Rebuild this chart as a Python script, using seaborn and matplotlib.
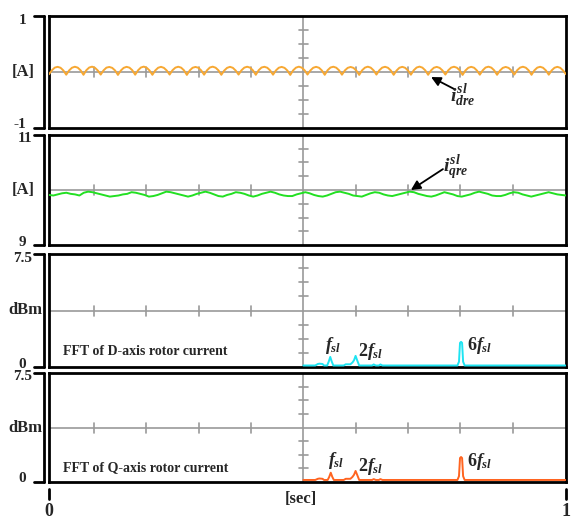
import numpy as np
import pandas as pd
import matplotlib
matplotlib.use("Agg")
import matplotlib.pyplot as plt
import seaborn as sns

# ---------------------------------------------------------------- data
# D-axis rotor current ripple [A], one row per ripple cycle
idre_cycles = [
    [-0.040, 0.030, 0.078, 0.092, 0.076, 0.028],
    [-0.048, 0.028, 0.076, 0.094, 0.078, 0.030],
    [-0.050, 0.032, 0.080, 0.095, 0.075, 0.026],
    [-0.046, 0.030, 0.078, 0.090, 0.074, 0.028],
    [-0.052, 0.026, 0.074, 0.092, 0.078, 0.032],
    [-0.048, 0.030, 0.080, 0.096, 0.076, 0.028],
    [-0.050, 0.028, 0.076, 0.092, 0.074, 0.026],
    [-0.046, 0.032, 0.078, 0.094, 0.078, 0.030],
    [-0.052, 0.028, 0.076, 0.090, 0.076, 0.028],
    [-0.048, 0.030, 0.080, 0.095, 0.077, 0.030],
    [-0.050, 0.026, 0.074, 0.092, 0.075, 0.026],
    [-0.046, 0.030, 0.078, 0.094, 0.078, 0.030],
    [-0.050, 0.032, 0.080, 0.093, 0.076, 0.028],
    [-0.048, 0.028, 0.076, 0.091, 0.074, 0.026],
    [-0.052, 0.030, 0.078, 0.095, 0.078, 0.030],
    [-0.046, 0.028, 0.076, 0.092, 0.076, 0.028],
    [-0.050, 0.032, 0.080, 0.094, 0.077, 0.030],
    [-0.048, 0.028, 0.074, 0.090, 0.074, 0.026],
    [-0.052, 0.030, 0.078, 0.095, 0.078, 0.030],
    [-0.046, 0.030, 0.078, 0.093, 0.076, 0.028],
    [-0.050, 0.026, 0.076, 0.092, 0.075, 0.026],
    [-0.048, 0.032, 0.080, 0.096, 0.078, 0.030],
    [-0.050, 0.028, 0.076, 0.091, 0.074, 0.028],
    [-0.046, 0.030, 0.078, 0.094, 0.077, 0.030],
    [-0.052, 0.028, 0.076, 0.092, 0.076, 0.026],
    [-0.048, 0.030, 0.080, 0.095, 0.078, 0.030],
    [-0.050, 0.026, 0.074, 0.090, 0.074, 0.028],
    [-0.046, 0.032, 0.078, 0.094, 0.077, 0.030],
    [-0.050, 0.030, 0.078, 0.093, 0.076, 0.028],
    [-0.048, 0.028, 0.076, 0.092, 0.075, 0.026],
]
idre = [v for cyc in idre_cycles for v in cyc] + [-0.040]

# Q-axis rotor current ripple [A], one row per ripple cycle
iqre_cycles = [
    [9.91, 9.90, 9.92, 9.94, 9.95, 9.93, 9.92, 9.90],
    [9.95, 9.97, 9.96, 9.94, 9.92, 9.90, 9.88, 9.89],
    [9.90, 9.92, 9.93, 9.96, 9.95, 9.93, 9.91, 9.88],
    [9.89, 9.91, 9.94, 9.97, 9.96, 9.94, 9.92, 9.90],
    [9.88, 9.90, 9.93, 9.95, 9.97, 9.95, 9.92, 9.89],
    [9.88, 9.91, 9.93, 9.96, 9.95, 9.93, 9.90, 9.88],
    [9.90, 9.93, 9.95, 9.97, 9.95, 9.92, 9.90, 9.89],
    [9.89, 9.92, 9.94, 9.96, 9.94, 9.91, 9.89, 9.88],
    [9.90, 9.93, 9.96, 9.97, 9.95, 9.93, 9.90, 9.89],
    [9.88, 9.91, 9.94, 9.96, 9.95, 9.92, 9.90, 9.89],
    [9.91, 9.93, 9.95, 9.97, 9.96, 9.93, 9.91, 9.89],
    [9.88, 9.90, 9.93, 9.96, 9.94, 9.92, 9.89, 9.88],
    [9.90, 9.92, 9.95, 9.97, 9.95, 9.93, 9.90, 9.89],
    [9.89, 9.91, 9.94, 9.96, 9.95, 9.92, 9.90, 9.88],
    [9.90, 9.92, 9.94, 9.96, 9.94, 9.92, 9.91, 9.90],
]
iqre = [v for cyc in iqre_cycles for v in cyc]

# FFT spectra: position along the sweep and magnitude [dBm]
fft_pos_d = [0.492, 0.515, 0.520, 0.523, 0.529, 0.532, 0.538, 0.541, 0.544,
             0.547, 0.550, 0.570, 0.574, 0.583, 0.587, 0.590, 0.593, 0.596,
             0.600, 0.625, 0.628, 0.632, 0.638, 0.641, 0.645, 0.650, 0.790,
             0.793, 0.795, 0.797, 0.799, 0.801, 0.804, 1.000]
fft_mag_d = [0.10, 0.10, 0.20, 0.22, 0.20, 0.10, 0.10, 0.35, 0.67,
             0.35, 0.10, 0.10, 0.18, 0.18, 0.30, 0.45, 0.74, 0.45,
             0.10, 0.10, 0.17, 0.10, 0.10, 0.17, 0.10, 0.10, 0.10,
             0.35, 1.60, 1.67, 1.60, 0.35, 0.10, 0.10]

fft_pos_q = [0.492, 0.515, 0.520, 0.523, 0.529, 0.532, 0.539, 0.542, 0.545,
             0.548, 0.551, 0.570, 0.574, 0.583, 0.587, 0.590, 0.593, 0.596,
             0.600, 0.625, 0.628, 0.632, 0.638, 0.641, 0.645, 0.650, 0.790,
             0.793, 0.795, 0.797, 0.799, 0.801, 0.804, 1.000]
fft_mag_q = [0.14, 0.14, 0.22, 0.24, 0.22, 0.14, 0.14, 0.35, 0.64,
             0.35, 0.14, 0.14, 0.22, 0.22, 0.35, 0.50, 0.76, 0.50,
             0.14, 0.14, 0.20, 0.14, 0.14, 0.20, 0.14, 0.14, 0.14,
             0.40, 1.65, 1.72, 1.65, 0.40, 0.14, 0.14]

y_ranges = [(-1, 1), (9, 11), (0, 7.5), (0, 7.5)]
y_labels = [("1", "[A]", "-1"), ("11", "[A]", "9"),
            ("7.5", "dBm", "0"), ("7.5", "dBm", "0")]
fft_titles = ["FFT of D-axis rotor current", "FFT of Q-axis rotor current"]
time_labels = ["0", "1"]

# ---------------------------------------------------------------- style
sns.set_theme(style="white")
plt.rcParams["font.family"] = ["Liberation Serif", "DejaVu Serif"]
plt.rcParams["font.weight"] = "bold"
plt.rcParams["mathtext.fontset"] = "custom"
plt.rcParams["mathtext.rm"] = "Liberation Serif:bold"
plt.rcParams["mathtext.it"] = "Liberation Serif:italic:bold"
plt.rcParams["mathtext.bf"] = "Liberation Serif:bold"

W, H = 571, 523
fig = plt.figure(figsize=(W / 100, H / 100), dpi=100)
fig.patch.set_facecolor("white")

X0, X1 = 49, 566
boxes = [(16, 128), (135, 245), (254, 367), (373, 482)]
axes = []
for top, bot in boxes:
    ax = fig.add_axes([X0 / W, 1 - bot / H, (X1 - X0) / W, (bot - top) / H])
    axes.append(ax)

GRID = "#9a9a9a"
XC = 0.492          # centre division of the sweep
XDIV = 0.1013       # width of one horizontal division
MID_RIGHT = [35, 35, 42, 42]   # right edge of the unit label, px


def frame(ax, yr, labels, top, bot, mid_right):
    lo, hi = yr
    mid = (lo + hi) / 2
    hpx = bot - top
    wpx = X1 - X0
    ax.set_xlim(0, 1)
    ax.set_ylim(lo, hi)
    ax.set_xticks([])
    ax.set_yticks([])
    ax.set_xlabel("")
    ax.set_ylabel("")
    for s in ax.spines.values():
        s.set_visible(True)
        s.set_color("black")
        s.set_linewidth(2.0)
    # centre cross with minor division marks
    ax.axhline(mid, color=GRID, lw=1.2, zorder=1)
    ax.axvline(XC, color=GRID, lw=1.2, zorder=1)
    dy = 5 / hpx * (hi - lo)
    for k in (-4, -3, -2, -1, 1, 2, 3, 4):
        x = XC + k * XDIV
        ax.plot([x, x], [mid - dy, mid + dy], color=GRID, lw=1.2, zorder=1)
    dx = 4.5 / wpx
    step = (hi - lo) / 8
    for k in (-3, -2, -1, 1, 2, 3):
        y = mid + k * step
        ax.plot([XC - dx, XC + dx], [y, y], color=GRID, lw=1.2, zorder=1)
    # bracket on the left
    bx = (44 - X0) / wpx
    sx = (34 - X0) / wpx
    kw = dict(color="black", lw=2.0, transform=ax.transAxes, clip_on=False)
    ax.plot([bx, bx], [0, 1], **kw)
    ax.plot([sx, bx], [1, 1], **kw)
    ax.plot([sx, bx], [0, 0], **kw)
    lab_top, lab_mid, lab_bot = labels
    ex = (26 - X0) / wpx
    if lab_top == "7.5" or lab_top == "11":
        ex_top = (32 - X0) / wpx
    else:
        ex_top = ex
    ax.text(ex_top, 1 - 4 / hpx, lab_top, transform=ax.transAxes, ha="right",
            va="center", fontsize=11, fontweight="bold")
    ax.text(ex, 3 / hpx, lab_bot, transform=ax.transAxes, ha="right",
            va="center", fontsize=11, fontweight="bold")
    mx = (mid_right - X0) / wpx
    ax.text(mx, 0.5, lab_mid, transform=ax.transAxes, ha="right",
            va="center", fontsize=12, fontweight="bold")


for ax, yr, labels, (top, bot), mr in zip(axes, y_ranges, y_labels, boxes,
                                          MID_RIGHT):
    frame(ax, yr, labels, top, bot, mr)

# ---------------------------------------------------------------- traces
t_d = np.linspace(0, 1, len(idre))
t_q = np.linspace(0, 1, len(iqre))
sns.lineplot(x=t_d, y=idre, ax=axes[0], color="#f7a833", lw=1.4, zorder=3)
sns.lineplot(x=t_q, y=iqre, ax=axes[1], color="#22e022", lw=1.4, zorder=3)
sns.lineplot(x=fft_pos_d, y=fft_mag_d, ax=axes[2], color="#1ee4f2",
             lw=1.4, zorder=3, sort=False)
sns.lineplot(x=fft_pos_q, y=fft_mag_q, ax=axes[3], color="#ff6420",
             lw=1.4, zorder=3, sort=False)
for ax, yr in zip(axes, y_ranges):
    ax.set_xlim(0, 1)
    ax.set_ylim(*yr)
    ax.set_xlabel("")
    ax.set_ylabel("")

# ---------------------------------------------------------------- labels
arrow = dict(arrowstyle="-|>", color="black", lw=1.3, mutation_scale=14,
             shrinkA=0, shrinkB=0)
axes[0].annotate("", xy=(0.739, 0.455), xytext=(0.785, 0.345),
                 xycoords="axes fraction", arrowprops=arrow)
axes[0].text(0.800, 0.290, r"$i_{dre}^{sl}$", transform=axes[0].transAxes,
             ha="center", va="center", fontsize=14)
axes[1].annotate("", xy=(0.700, 0.500), xytext=(0.762, 0.690),
                 xycoords="axes fraction", arrowprops=arrow)
axes[1].text(0.787, 0.705, r"$i_{qre}^{sl}$", transform=axes[1].transAxes,
             ha="center", va="center", fontsize=14)

harm_pos = [[(0.549, 0.190), (0.623, 0.140), (0.834, 0.190)],
            [(0.555, 0.195), (0.623, 0.140), (0.834, 0.185)]]
harm_txt = [r"$f_{sl}$", r"$2f_{sl}$", r"$6f_{sl}$"]
for ax, title, pos in zip(axes[2:], fft_titles, harm_pos):
    ax.text(0.027, 0.135, title, transform=ax.transAxes, ha="left",
            va="center", fontsize=10, fontweight="bold")
    for (hx, hy), s in zip(pos, harm_txt):
        ax.text(hx, hy, s, transform=ax.transAxes, ha="center",
                va="center", fontsize=13)

# time axis markers below the last panel
for px, lab in zip((49, 566), time_labels):
    fig.add_artist(plt.Line2D([px / W, px / W], [1 - 489 / H, 1 - 499 / H],
                              color="black", lw=2.0))
    fig.text(px / W, 1 - 511 / H, lab, ha="center", va="center",
             fontsize=13, fontweight="bold")
fig.text(301 / W, 1 - 499 / H, "[sec]", ha="center", va="center",
         fontsize=12, fontweight="bold")

fig.savefig("out.png", dpi=100, facecolor="white")
